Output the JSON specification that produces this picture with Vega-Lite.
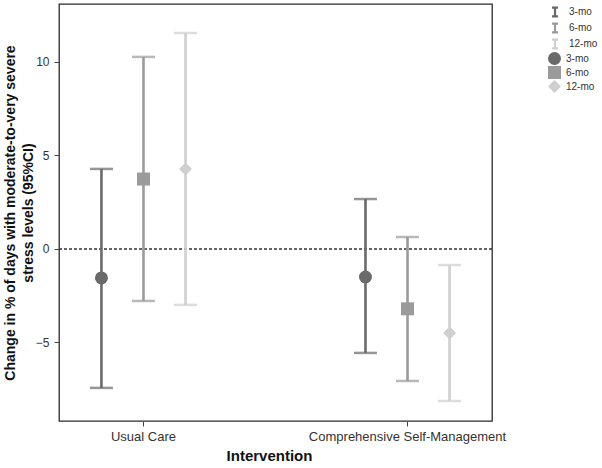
{
  "$schema": "https://vega.github.io/schema/vega-lite/v6.json",
  "width": 433,
  "height": 417,
  "autosize": {"type": "none"},
  "padding": {"left": 59, "top": 4, "right": 110, "bottom": 47},
  "background": "white",
  "config": {
    "font": "Liberation Sans",
    "view": {"stroke": "#2a2a2a", "strokeWidth": 1.3},
    "axis": {"grid": false, "domain": false, "tickColor": "#444", "tickSize": 5, "labelColor": "#333", "titleColor": "#111"}
  },
  "data": {
    "values": [
      {"group": "Usual Care", "period": "3-mo", "mean": -1.55, "lo": -7.43, "hi": 4.28},
      {"group": "Usual Care", "period": "6-mo", "mean": 3.74, "lo": -2.78, "hi": 10.27},
      {"group": "Usual Care", "period": "12-mo", "mean": 4.28, "lo": -2.99, "hi": 11.55},
      {"group": "Comprehensive Self-Management", "period": "3-mo", "mean": -1.5, "lo": -5.56, "hi": 2.67},
      {"group": "Comprehensive Self-Management", "period": "6-mo", "mean": -3.2, "lo": -7.06, "hi": 0.64},
      {"group": "Comprehensive Self-Management", "period": "12-mo", "mean": -4.5, "lo": -8.13, "hi": -0.86}
    ]
  },
  "encoding": {
    "x": {
      "field": "group", "type": "nominal",
      "scale": {"domain": ["Usual Care", "Comprehensive Self-Management"], "paddingInner": 0.5, "paddingOuter": 0.07},
      "axis": {"title": "Intervention", "labelAngle": 0, "labelFontSize": 13, "labelPadding": 4, "labelLimit": 0, "labelOverlap": false, "titleFontSize": 15, "titleFontWeight": "bold", "titlePadding": 5, "titleX": 210}
    },
    "xOffset": {
      "field": "period", "type": "nominal",
      "scale": {"domain": ["3-mo", "6-mo", "12-mo"], "paddingInner": 0, "paddingOuter": 0.07}
    }
  },
  "layer": [
    {
      "data": {"values": [{"ref": 0}]},
      "mark": {"type": "rule", "strokeDash": [3, 2], "color": "#333", "strokeWidth": 1.4},
      "encoding": {"x": null, "xOffset": null, "y": {"field": "ref", "type": "quantitative"}}
    },
    {
      "mark": {"type": "rule", "strokeWidth": 2.6},
      "encoding": {
        "y": {
          "field": "lo", "type": "quantitative",
          "scale": {"domain": [-9.2, 13.1], "nice": false, "zero": false},
          "axis": {
            "values": [-5, 0, 5, 10], "labelFontSize": 12, "labelPadding": 5,
            "title": ["Change in % of days with moderate-to-very severe", "stress levels (95%CI)"],
            "titleFontSize": 14, "titleFontWeight": "bold", "titleLineHeight": 18,
            "titleX": -42, "titleY": 208.5, "titleAngle": -90, "titleAlign": "center", "titleBaseline": "bottom"
          }
        },
        "y2": {"field": "hi"},
        "color": {
          "field": "period", "type": "nominal",
          "sort": ["3-mo", "6-mo", "12-mo"],
          "scale": {"range": ["#6a6a6a", "#9b9b9b", "#cfcfcf"]},
          "legend": {
            "title": null, "orient": "none", "legendX": 489, "legendY": 1,
            "symbolType": "M-0.55,-0.8H0.55M0,-0.8V0.8M-0.55,0.8H0.55",
            "symbolSize": 121, "symbolStrokeWidth": 2.2, "symbolFillColor": "transparent",
            "labelFontSize": 10, "labelOffset": 7, "rowPadding": -2, "labelColor": "#333"
          }
        }
      }
    },
    {
      "mark": {"type": "tick", "orient": "horizontal", "size": 23, "thickness": 2.5},
      "encoding": {
        "y": {"field": "lo", "type": "quantitative"},
        "color": {"field": "period", "type": "nominal", "scale": {"domain": ["3-mo", "6-mo", "12-mo"], "range": ["#6a6a6a", "#9b9b9b", "#cfcfcf"]}, "legend": null}
      }
    },
    {
      "mark": {"type": "tick", "orient": "horizontal", "size": 23, "thickness": 2.5},
      "encoding": {
        "y": {"field": "hi", "type": "quantitative"},
        "color": {"field": "period", "type": "nominal", "scale": {"domain": ["3-mo", "6-mo", "12-mo"], "range": ["#6a6a6a", "#9b9b9b", "#cfcfcf"]}, "legend": null}
      }
    },
    {
      "mark": {"type": "point", "filled": true, "opacity": 1},
      "encoding": {
        "y": {"field": "mean", "type": "quantitative"},
        "color": {
          "field": "period", "type": "nominal",
          "scale": {"domain": ["3-mo", "6-mo", "12-mo"], "range": ["#6a6a6a", "#9b9b9b", "#cfcfcf"]},
          "legend": {
            "title": null, "orient": "none", "legendX": 489, "legendY": 48,
            "symbolSize": 169, "symbolStrokeWidth": 0, "labelFontSize": 10, "labelOffset": 5, "rowPadding": 1, "labelColor": "#333", "symbolOpacity": 1
          }
        },
        "shape": {
          "field": "period", "type": "nominal",
          "scale": {"domain": ["3-mo", "6-mo", "12-mo"], "range": ["circle", "square", "diamond"]},
          "legend": {
            "title": null, "orient": "none", "legendX": 489, "legendY": 48,
            "symbolSize": 169, "symbolStrokeWidth": 0, "labelFontSize": 10, "labelOffset": 5, "rowPadding": 1, "labelColor": "#333", "symbolOpacity": 1
          }
        },
        "size": {
          "field": "period", "type": "ordinal",
          "scale": {"domain": ["3-mo", "6-mo", "12-mo"], "range": [169, 169, 420]},
          "legend": null
        }
      }
    }
  ],
  "resolve": {"scale": {"color": "independent", "shape": "independent"}}
}
